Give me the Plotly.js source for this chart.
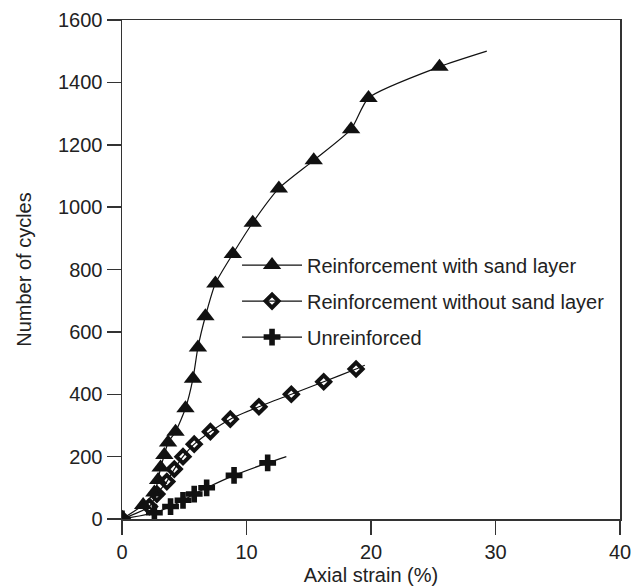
<!DOCTYPE html>
<html>
<head>
<meta charset="utf-8">
<script src="https://cdn.plot.ly/plotly-3.0.1.min.js"></script>
<style>html,body{margin:0;padding:0;background:#fff;}#chart{width:642px;height:588px;}</style>
</head>
<body>
<div id="chart"></div>
<script>
// Series: Reinforcement with sand layer (marker points), curve end point
const strainWith = [0, 1.7, 2.6, 2.9, 3.1, 3.4, 3.7, 4.3, 5.1, 5.7, 6.1, 6.7, 7.5, 8.9, 10.5, 12.6, 15.4, 18.4, 19.8, 25.5];
const cyclesWith = [0, 45, 85, 125, 165, 205, 245, 280, 355, 450, 550, 650, 755, 850, 950, 1060, 1150, 1250, 1350, 1450];
const strainWithEnd = 29.3, cyclesWithEnd = 1500;

// Series: Reinforcement without sand layer
const strainWithout = [0, 2.2, 2.8, 3.6, 4.2, 4.9, 5.8, 7.1, 8.7, 11.0, 13.6, 16.2, 18.8];
const cyclesWithout = [0, 40, 80, 120, 160, 200, 240, 280, 320, 360, 400, 440, 481];
const strainWithoutEnd = 19.5, cyclesWithoutEnd = 493;

// Series: Unreinforced
const strainUnr = [0, 2.6, 3.9, 4.9, 5.8, 6.8, 9.0, 11.7];
const cyclesUnr = [0, 20, 40, 60, 80, 100, 140, 180];
const strainUnrEnd = 13.2, cyclesUnrEnd = 200;

const seriesNames = ["Reinforcement with sand layer", "Reinforcement without sand layer", "Unreinforced"];
const xTickVals = [0, 10, 20, 30, 40];
const yTickVals = [0, 200, 400, 600, 800, 1000, 1200, 1400, 1600];

const ink = '#111';
const series = [
  {x: strainWith, y: cyclesWith, ex: strainWithEnd, ey: cyclesWithEnd, name: seriesNames[0],
   marker: {symbol: 'triangle-up', size: 16, color: ink}},
  {x: strainWithout, y: cyclesWithout, ex: strainWithoutEnd, ey: cyclesWithoutEnd, name: seriesNames[1],
   marker: {symbol: 'diamond-open', size: 10, color: ink, line: {width: 4, color: ink}}},
  {x: strainUnr, y: cyclesUnr, ex: strainUnrEnd, ey: cyclesUnrEnd, name: seriesNames[2],
   marker: {symbol: 'cross', size: 14, color: ink}}
];

const traces = [];
series.forEach((s, i) => {
  traces.push({
    type: 'scatter', mode: 'lines', x: s.x.concat([s.ex]), y: s.y.concat([s.ey]),
    line: {color: ink, width: 1.2, shape: 'spline', smoothing: 0.6},
    showlegend: false, hoverinfo: 'skip'
  });
  traces.push({
    type: 'scatter', mode: 'markers', x: s.x, y: s.y, marker: s.marker,
    showlegend: false, name: s.name
  });
});
series.forEach((s, i) => {
  traces.push({
    type: 'scatter', mode: 'lines+markers', x: [null], y: [null], name: s.name,
    legendgroup: 'g' + i, marker: s.marker, line: {color: ink, width: 1.2}, showlegend: true
  });
});

const layout = {
  width: 642, height: 588,
  margin: {l: 122, r: 22, t: 20, b: 69},
  paper_bgcolor: '#fff', plot_bgcolor: '#fff',
  font: {family: 'Liberation Sans, Arial, sans-serif', size: 20, color: '#222'},
  showlegend: true,
  legend: {x: 0.231, y: 0.548, xanchor: 'left', yanchor: 'top', bgcolor: 'rgba(0,0,0,0)',
           borderwidth: 0, itemwidth: 60, traceorder: 'grouped', tracegroupgap: 7,
           font: {size: 20, color: '#222'}},
  xaxis: {range: [0, 40], tickvals: xTickVals, ticks: 'outside', ticklen: 14, tickwidth: 1.5, tickcolor: '#333',
          showline: true, linecolor: '#333', linewidth: 1.5, mirror: true, showgrid: false, zeroline: false,
          title: {text: 'Axial strain (%)', font: {size: 20}, standoff: 6}, tickfont: {size: 20}},
  yaxis: {range: [0, 1600], tickvals: yTickVals, ticks: 'outside', ticklen: 14, tickwidth: 1.5, tickcolor: '#333',
          showline: true, linecolor: '#333', linewidth: 1.5, mirror: true, showgrid: false, zeroline: false,
          title: {text: 'Number of cycles', font: {size: 20}, standoff: 21}, tickfont: {size: 20}}
};

Plotly.newPlot('chart', traces, layout, {displayModeBar: false, staticPlot: true});
</script>
</body>
</html>
